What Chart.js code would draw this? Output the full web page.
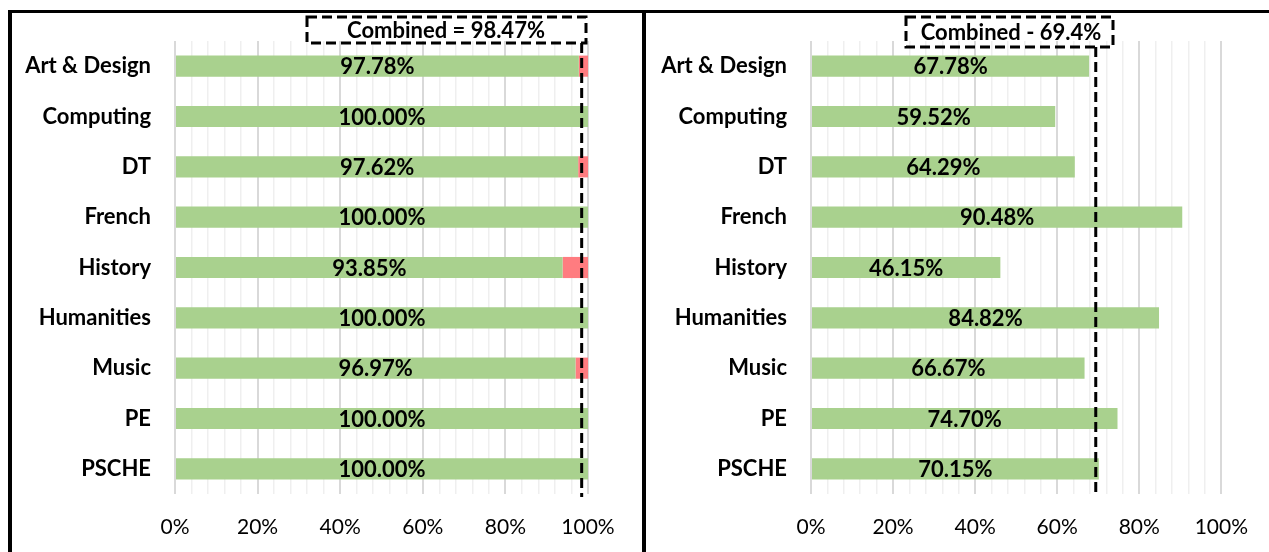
<!DOCTYPE html>
<html>
<head>
<meta charset="utf-8">
<script src="https://cdn.jsdelivr.net/npm/chart.js@4"></script>
<style>
  html, body { margin: 0; padding: 0; background: #fff; }
  #wrap { position: relative; width: 1269px; height: 552px; overflow: hidden; }
  canvas { position: absolute; top: 13px; }
  #leftChart { left: 12px; }
  #rightChart { left: 646px; }
  .rule { position: absolute; background: #000; z-index: 5; }
</style>
</head>
<body>
<div id="wrap">
  <canvas id="leftChart" width="630" height="539"></canvas>
  <canvas id="rightChart" width="623" height="539"></canvas>
  <div class="rule" style="left:8px; top:10px; width:1261px; height:3px;"></div>
  <div class="rule" style="left:8px; top:10px; width:4px; height:542px;"></div>
  <div class="rule" style="left:642px; top:10px; width:4px; height:542px;"></div>
</div>
<script>
// Data
const subjects = ['Art & Design', 'Computing', 'DT', 'French', 'History', 'Humanities', 'Music', 'PE', 'PSCHE'];
const leftValues = [97.78, 100, 97.62, 100, 93.85, 100, 96.97, 100, 100];
const leftRemainder = [2.22, 0, 2.38, 0, 6.15, 0, 3.03, 0, 0];
const rightValues = [67.78, 59.52, 64.29, 90.48, 46.15, 84.82, 66.67, 74.70, 70.15];
const leftCombined = 98.47;
const rightCombined = 69.4;
const leftCombinedText = 'Combined = 98.47%';
const rightCombinedText = 'Combined - 69.4%';
const xTickLabels = ['0%', '20%', '40%', '60%', '80%', '100%'];

const GREEN = '#a9d18e';
const RED = '#ff7c80';
const FONT = 'Lato, "Open Sans", sans-serif';

Chart.defaults.font.family = FONT;
Chart.defaults.color = '#000';

// draws value labels in the middle of the green bars
const barLabels = {
  id: 'barLabels',
  afterDatasetsDraw(chart) {
    const ctx = chart.ctx;
    const meta = chart.getDatasetMeta(0);
    const data = chart.data.datasets[0].data;
    ctx.save();
    ctx.font = 'bold 22px ' + FONT;
    ctx.fillStyle = '#000';
    ctx.textAlign = 'center';
    ctx.textBaseline = 'middle';
    meta.data.forEach((bar, i) => {
      ctx.fillText(data[i].toFixed(2) + '%', (bar.x + bar.base) / 2, bar.y + 1);
    });
    ctx.restore();
  }
};

// dashed "combined" marker + label box
const combinedMarker = {
  id: 'combinedMarker',
  afterDraw(chart, args, opts) {
    const ctx = chart.ctx;
    const x = chart.scales.x.getPixelForValue(opts.value);
    const b = opts.box;
    ctx.save();
    ctx.strokeStyle = '#000';
    ctx.lineWidth = 3;
    ctx.setLineDash([10, 5]);
    ctx.beginPath();
    ctx.moveTo(x, b.y + b.h);
    ctx.lineTo(x, chart.chartArea.bottom + 3);
    ctx.stroke();
    ctx.strokeRect(b.x, b.y, b.w, b.h);
    ctx.setLineDash([]);
    ctx.font = 'bold 22px ' + FONT;
    ctx.fillStyle = '#000';
    ctx.textAlign = 'center';
    ctx.textBaseline = 'middle';
    ctx.fillText(opts.text, b.tx, b.y + b.h / 2 + 1);
    ctx.restore();
  }
};

function makeOptions(yWidth, padRight, combined, text, box) {
  return {
    responsive: false,
    devicePixelRatio: 1,
    animation: false,
    indexAxis: 'y',
    layout: { padding: { top: 28, right: padRight, bottom: 0, left: 0 } },
    plugins: {
      legend: { display: false },
      tooltip: { enabled: false },
      combinedMarker: { value: combined, text: text, box: box }
    },
    scales: {
      x: {
        stacked: true,
        min: 0,
        max: 100,
        afterFit: scale => { scale.height = 58; },
        border: { display: false },
        grid: {
          drawTicks: false,
          color: c => (c.tick.value % 20 === 0 ? '#d9d9d9' : '#efefef'),
          lineWidth: c => (c.tick.value % 20 === 0 ? 2 : 1.5)
        },
        ticks: {
          stepSize: 4,
          autoSkip: false,
          maxRotation: 0,
          padding: 21,
          font: { size: 21 },
          callback: v => (v % 20 === 0 ? xTickLabels[v / 20] : '')
        }
      },
      y: {
        stacked: true,
        afterFit: scale => {
          scale.width = yWidth;
          // tick padding would otherwise push the plot area down
          scale.paddingTop = 0;
          scale.paddingBottom = 0;
        },
        border: { display: false },
        grid: { display: false, drawTicks: false },
        ticks: { padding: 24, font: { size: 22, weight: 'bold' } }
      }
    }
  };
}

let leftChart = new Chart(document.getElementById('leftChart'), {
  type: 'bar',
  data: {
    labels: subjects,
    datasets: [
      { data: leftValues, backgroundColor: GREEN, barPercentage: 0.42, categoryPercentage: 1 },
      { data: leftRemainder, backgroundColor: RED, barPercentage: 0.42, categoryPercentage: 1 }
    ]
  },
  options: makeOptions(163, 54, leftCombined, leftCombinedText, { x: 295, y: 4, w: 279, h: 26, tx: 434 }),
  plugins: [barLabels, combinedMarker]
});

let rightChart = new Chart(document.getElementById('rightChart'), {
  type: 'bar',
  data: {
    labels: subjects,
    datasets: [
      { data: rightValues, backgroundColor: GREEN, barPercentage: 0.42, categoryPercentage: 1 }
    ]
  },
  options: makeOptions(165, 46, rightCombined, rightCombinedText, { x: 260, y: 4, w: 207, h: 30, tx: 365 }),
  plugins: [barLabels, combinedMarker]
});
</script>
</body>
</html>
